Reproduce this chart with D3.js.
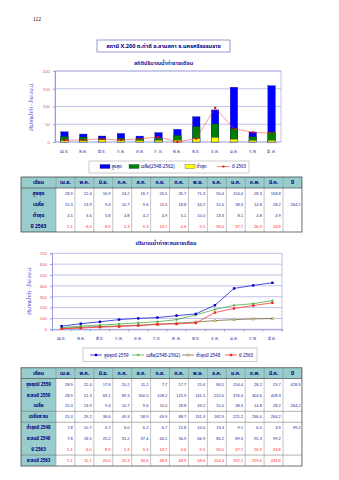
<!DOCTYPE html>
<html><head><meta charset="utf-8">
<script src="https://cdn.jsdelivr.net/npm/d3@7"></script>
<style>
html,body{margin:0;padding:0;background:#fff;}
svg{display:block;font-family:Tahoma,"Noto Sans Thai","Noto Sans","DejaVu Sans",sans-serif;}
</style></head>
<body><svg id="c" width="339" height="480"></svg>
<script>
const months = ["เม.ย.","พ.ค.","มิ.ย.","ก.ค.","ส.ค.","ก.ย.","ต.ค.","พ.ย.","ธ.ค.","ม.ค.","ก.พ.","มี.ค."];
const yTicks1 = [0,50,100,150,200];
const yTicks2 = [0,100,200,300,400,500,600,700];

// monthly (chart 1 / table 1)
const maxMonthly = [28.9,22.4,16.9,24.2,16.7,26.5,35.7,71.3,90.4,154.4,28.3,158.8];
const avgMonthly = [15.3,13.9,9.4,10.7,9.6,11.0,18.8,43.2,51.0,38.3,14.8,28.2];
const minMonthly = [4.5,3.6,5.8,4.8,4.2,4.9,5.1,10.0,13.3,8.1,4.8,4.9];
const y2563 = [5.1,6.0,8.9,5.3,9.3,13.7,0.6,9.5,96.0,37.7,26.9,24.8];
const avgYear = 264.2;

// cumulative (chart 2 / table 2)
const max2559 = [28.9,22.4,17.8,20.2,11.2,7.7,17.7,15.6,80.5,154.4,28.2,23.7];
const cumMax2559 = [28.9,51.3,69.1,89.3,100.5,108.2,125.9,141.5,222.0,376.4,404.6,428.3];
const cumAvg = [15.3,29.2,38.6,49.3,58.9,69.9,88.7,131.9,182.9,221.2,236.0,264.2];
const min2548 = [7.8,10.7,6.7,6.0,6.2,6.7,12.8,10.0,13.3,9.1,6.0,3.9];
const cumMin2548 = [7.8,18.5,25.2,31.2,37.4,44.1,56.9,66.9,80.2,89.3,95.3,99.2];
const cum2563 = [5.1,11.1,20.0,25.3,34.6,48.3,48.9,58.4,154.4,192.1,219.0,243.8];
const total2559 = 428.3, total2548 = 99.2;

const svg = d3.select("#c");
const navy = "#000080", gridC = "#9999dd", tickC = "#e05050", labC = "#3333cc";

svg.append("text").attr("x",33).attr("y",21).attr("font-size",5.5).attr("font-family","Liberation Serif, serif").text("112");

// title box
svg.append("rect").attr("x",97).attr("y",40).attr("width",133).attr("height",12).attr("fill","#fff").attr("stroke","#8080c8").attr("stroke-width",0.8);
svg.append("text").attr("x",163.5).attr("y",48.3).attr("text-anchor","middle").attr("font-size",5.6).attr("font-weight","bold").attr("fill",navy).text("สถานี X.200 ต.ท่าดี อ.ลานสกา จ.นครศรีธรรมราช");
svg.append("text").attr("x",163.5).attr("y",64.5).attr("text-anchor","middle").attr("font-size",5.4).attr("font-weight","bold").attr("fill","#1a1aa0").text("สถิติปริมาณน้ำท่ารายเดือน");

// ---------- Chart 1 ----------
const c1 = {x0:55,x1:281,yt:71,yb:142};
const x1 = d3.scaleBand().domain(months).range([c1.x0,c1.x1]).paddingInner(0.6).paddingOuter(0.3);
const y1 = d3.scaleLinear().domain([0,200]).range([c1.yb,c1.yt]);
const g1 = svg.append("g");
g1.append("rect").attr("x",c1.x0).attr("y",c1.yt).attr("width",c1.x1-c1.x0).attr("height",c1.yb-c1.yt).attr("fill","none").attr("stroke",gridC).attr("stroke-width",0.6);
g1.selectAll(".gl").data(yTicks1).join("line").attr("x1",c1.x0).attr("x2",c1.x1).attr("y1",d=>y1(d)).attr("y2",d=>y1(d)).attr("stroke",gridC).attr("stroke-width",0.6);
const ya1 = g1.append("g").attr("transform",`translate(${c1.x0},0)`).call(d3.axisLeft(y1).tickValues(yTicks1).tickSize(2).tickPadding(3));
ya1.select(".domain").attr("stroke",gridC);
ya1.selectAll(".tick line").attr("stroke",gridC);
ya1.selectAll("text").attr("font-size",4.3).attr("fill",tickC).attr("font-family","Liberation Sans, sans-serif");
const xa1 = g1.append("g").attr("transform",`translate(0,${c1.yb})`).call(d3.axisBottom(x1).tickSize(0).tickPadding(8));
xa1.select(".domain").remove();
xa1.selectAll("text").attr("font-size",4.3).attr("fill","#3333aa");
g1.append("text").attr("transform","translate(33,107) rotate(-90)").attr("text-anchor","middle").attr("font-size",4.8).attr("fill",labC).text("ปริมาณน้ำท่า - ล้าน ลบ.ม.");
const barSets = [[maxMonthly,"#0000ff"],[avgMonthly,"#008000"],[minMonthly,"#ffff00"]];
barSets.forEach(([arr,col])=>{
  g1.selectAll(null).data(arr).join("rect")
    .attr("x",(d,i)=>x1(months[i])).attr("width",x1.bandwidth())
    .attr("y",d=>y1(d)).attr("height",d=>c1.yb-y1(d))
    .attr("fill",col).attr("stroke","#202060").attr("stroke-width",0.3);
});
const line1 = d3.line().x((d,i)=>x1(months[i])+x1.bandwidth()/2).y(d=>y1(d));
g1.append("path").datum(y2563).attr("d",line1).attr("fill","none").attr("stroke","#ff3030").attr("stroke-width",0.5);
g1.selectAll(".rp").data(y2563).join("circle").attr("cx",(d,i)=>x1(months[i])+x1.bandwidth()/2).attr("cy",d=>y1(d)).attr("r",1.1).attr("fill","#e00000");

// legend 1
const lg1 = svg.append("g");
lg1.append("rect").attr("x",89).attr("y",161).attr("width",160).attr("height",12).attr("fill","#fff").attr("stroke","#999").attr("stroke-width",0.5);
const leg1 = [["สูงสุด","#0000ff",100,"bar"],["เฉลี่ย(2548-2562)","#008000",129,"bar"],["ต่ำสุด","#ffff00",185,"bar"],["ปี 2563","#ff3030",217,"line"]];
leg1.forEach(([t,c,x,k])=>{
  if(k==="bar") lg1.append("rect").attr("x",x).attr("y",164.5).attr("width",10).attr("height",4).attr("fill",c).attr("stroke","#202060").attr("stroke-width",0.3);
  else { lg1.append("line").attr("x1",x).attr("x2",x+13).attr("y1",166.5).attr("y2",166.5).attr("stroke",c).attr("stroke-width",0.6);
         lg1.append("circle").attr("cx",x+6.5).attr("cy",166.5).attr("r",1.1).attr("fill","#e00000"); }
  lg1.append("text").attr("x",x+(k==="bar"?11.5:15)).attr("y",168.3).attr("font-size",4.5).attr("fill",navy).text(t);
});

// ---------- table helper ----------
function table(cfg){
  const g = svg.append("g");
  const {x,y,labelW,colW,headH,rowH,rows,hlines} = cfg;
  const ncol = months.length+1;
  const W = labelW+colW*ncol, H = headH+rowH*rows.length;
  g.append("rect").attr("x",x).attr("y",y).attr("width",W).attr("height",headH).attr("fill","#99cccc");
  g.append("rect").attr("x",x).attr("y",y+headH).attr("width",labelW).attr("height",H-headH).attr("fill","#99cccc");
  for(let i=0;i<ncol;i++){
    const cx = x+labelW+colW*i;
    g.append("line").attr("x1",cx).attr("x2",cx).attr("y1",y).attr("y2",y+H).attr("stroke","#888").attr("stroke-width",0.5);
  }
  g.append("line").attr("x1",x).attr("x2",x+W).attr("y1",y+headH).attr("y2",y+headH).attr("stroke","#333").attr("stroke-width",0.6);
  (hlines||[]).forEach(r=>{
    g.append("line").attr("x1",x).attr("x2",x+W).attr("y1",y+headH+rowH*r).attr("y2",y+headH+rowH*r).attr("stroke","#666").attr("stroke-width",0.5);
  });
  g.append("rect").attr("x",x).attr("y",y).attr("width",W).attr("height",H).attr("fill","none").attr("stroke","#333").attr("stroke-width",0.7);
  const heads = ["เดือน",...months,"ปี"];
  heads.forEach((h,i)=>{
    const cx = i===0 ? x+labelW/2 : x+labelW+colW*(i-1)+colW/2;
    g.append("text").attr("x",cx).attr("y",y+headH/2+1.8).attr("text-anchor","middle").attr("font-size",5).attr("font-weight","bold").attr("fill",navy).text(h);
  });
  rows.forEach((r,ri)=>{
    const cy = y+headH+rowH*ri+rowH/2+1.6;
    g.append("text").attr("x",x+labelW/2).attr("y",cy).attr("text-anchor","middle").attr("font-size",r.ls||5).attr("font-weight","bold").attr("fill",navy).text(r.label);
    r.values.forEach((v,i)=>{
      g.append("text").attr("x",x+labelW+colW*(i+1)-2.2).attr("y",cy).attr("text-anchor","end").attr("font-size",4).attr("fill",r.color).attr("font-family","Liberation Sans, sans-serif").text(v.toFixed(1));
    });
    if(r.total!=null){
      g.append("text").attr("x",x+labelW+colW*ncol-1.5).attr("y",cy).attr("text-anchor","end").attr("font-size",4).attr("fill",r.color).attr("font-family","Liberation Sans, sans-serif").text(r.total.toFixed(1));
    }
  });
}
const vC = "#1a1a90", rC = "#ff2020";
table({x:21,y:177,labelW:35,colW:18.92,headH:11,rowH:11,rows:[
  {label:"สูงสุด",values:maxMonthly,color:vC},
  {label:"เฉลี่ย",values:avgMonthly,color:vC,total:avgYear},
  {label:"ต่ำสุด",values:minMonthly,color:vC},
  {label:"ปี 2563",values:y2563,color:rC}
],hlines:[]});

// ---------- Chart 2 ----------
svg.append("text").attr("x",166).attr("y",245).attr("text-anchor","middle").attr("font-size",5.4).attr("font-weight","bold").attr("fill","#1a1aa0").text("ปริมาณน้ำท่าสะสมรายเดือน");
const c2 = {x0:52,x1:282,yt:253.3,yb:329.3};
const x2 = d3.scaleBand().domain(months).range([c2.x0,c2.x1]);
const y2 = d3.scaleLinear().domain([0,700]).range([c2.yb,c2.yt]);
const g2 = svg.append("g");
g2.selectAll(".gl").data(yTicks2).join("line").attr("x1",c2.x0).attr("x2",c2.x1).attr("y1",d=>y2(d)).attr("y2",d=>y2(d)).attr("stroke",gridC).attr("stroke-width",0.6);
g2.append("line").attr("x1",c2.x1).attr("x2",c2.x1).attr("y1",c2.yt).attr("y2",c2.yb).attr("stroke",gridC).attr("stroke-width",0.6);
const ya2 = g2.append("g").attr("transform",`translate(${c2.x0},0)`).call(d3.axisLeft(y2).tickValues(yTicks2).tickSize(2).tickPadding(3));
ya2.select(".domain").attr("stroke",gridC);
ya2.selectAll(".tick line").attr("stroke",gridC);
ya2.selectAll("text").attr("font-size",4.3).attr("fill",tickC).attr("font-family","Liberation Sans, sans-serif");
const xa2 = g2.append("g").attr("transform",`translate(0,${c2.yb})`).call(d3.axisBottom(x2).tickSize(2).tickPadding(6));
xa2.select(".domain").attr("stroke",gridC);
xa2.selectAll(".tick line").attr("stroke",gridC).attr("transform",`translate(${x2.bandwidth()/2},0)`);
xa2.selectAll("text").attr("font-size",4.3).attr("fill","#3333aa");
g2.append("text").attr("transform","translate(31,291) rotate(-90)").attr("text-anchor","middle").attr("font-size",4.8).attr("fill",labC).text("ปริมาณน้ำท่า - ล้าน ลบ.ม.");
const px = i=>x2(months[i])+x2.bandwidth()/2;
const line2 = d3.line().x((d,i)=>px(i)).y(d=>y2(d));
const series2 = [
  {data:cumMin2548,color:"#665522",marker:"tri"},
  {data:cum2563,color:"#ff2020",marker:"sq"},
  {data:cumAvg,color:"#33a033",marker:"plus"},
  {data:cumMax2559,color:"#0000cc",marker:"sq"}
];
function marker(g,type,x,y,color){
  if(type==="sq") g.append("rect").attr("x",x-1.2).attr("y",y-1.2).attr("width",2.4).attr("height",2.4).attr("fill",color);
  else if(type==="tri") g.append("path").attr("d",`M${x},${y-1.6}L${x+1.5},${y+1}L${x-1.5},${y+1}Z`).attr("fill","#ffff99").attr("stroke",color).attr("stroke-width",0.4);
  else g.append("path").attr("d",`M${x-1.4},${y}H${x+1.4}M${x},${y-1.4}V${y+1.4}`).attr("stroke",color).attr("stroke-width",0.6);
}
series2.forEach(s=>{
  g2.append("path").datum(s.data).attr("d",line2).attr("fill","none").attr("stroke",s.color).attr("stroke-width",0.7);
  s.data.forEach((d,i)=>marker(g2,s.marker,px(i),y2(d),s.color));
});
// legend 2
const lg2 = svg.append("g");
lg2.append("rect").attr("x",83).attr("y",348).attr("width",174).attr("height",13.5).attr("fill","#fff").attr("stroke","#999").attr("stroke-width",0.5);
const leg2 = [["สูงสุดปี 2559","#0000cc","sq",90],["เฉลี่ย(2548-2562)","#33a033","plus",132],["ต่ำสุดปี 2548","#665522","tri",182],["ปี 2563","#ff2020","sq",225]];
leg2.forEach(([t,c,m,x])=>{
  lg2.append("line").attr("x1",x).attr("x2",x+12).attr("y1",355).attr("y2",355).attr("stroke",c).attr("stroke-width",0.7);
  marker(lg2,m,x+6,355,c);
  lg2.append("text").attr("x",x+14).attr("y",356.8).attr("font-size",4.5).attr("fill",navy).text(t);
});

table({x:21,y:367.8,labelW:35,colW:18.92,headH:10.7,rowH:10.94,rows:[
  {label:"สูงสุดปี 2559",values:max2559,color:vC,total:total2559,ls:4.4},
  {label:"สะสมปี 2559",values:cumMax2559,color:vC,ls:4.4},
  {label:"เฉลี่ย",values:avgMonthly,color:vC,total:avgYear,ls:4.6},
  {label:"เฉลี่ยสะสม",values:cumAvg,color:vC,ls:4.4},
  {label:"ต่ำสุดปี 2548",values:min2548,color:vC,total:total2548,ls:4.4},
  {label:"สะสมปี 2548",values:cumMin2548,color:vC,ls:4.4},
  {label:"ปี 2563",values:y2563,color:rC,ls:4.6},
  {label:"สะสมปี 2563",values:cum2563,color:rC,ls:4.4}
],hlines:[3,4,7]});
</script></body></html>
